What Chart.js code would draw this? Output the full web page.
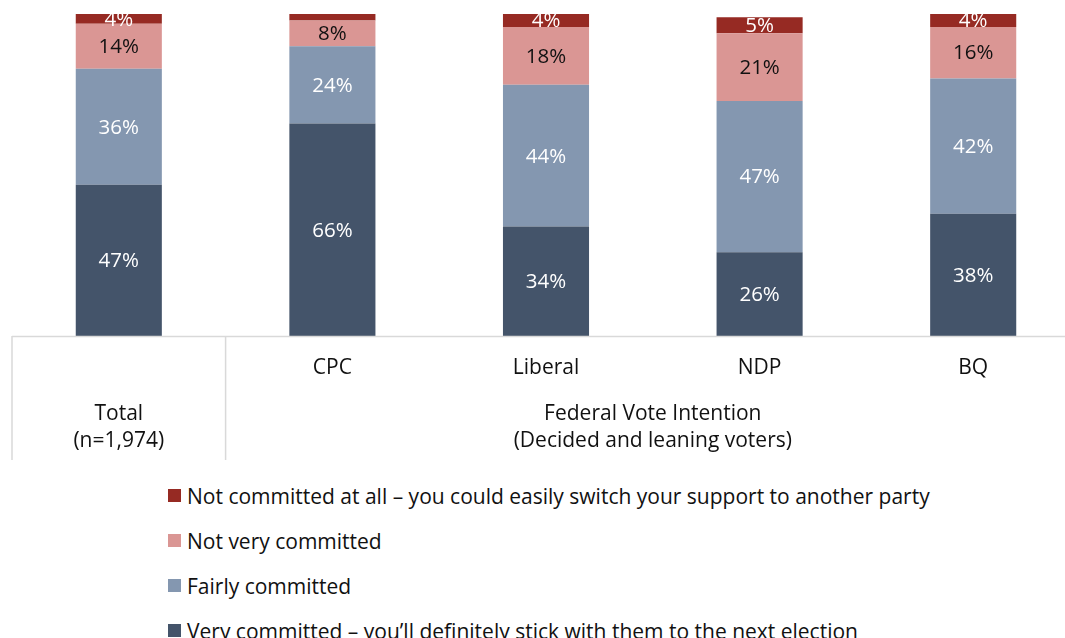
<!DOCTYPE html>
<html>
<head>
<meta charset="utf-8">
<script src="https://cdn.jsdelivr.net/npm/chart.js@4.4.1/dist/chart.umd.min.js"></script>
<style>
  html, body { margin: 0; padding: 0; background: #fff; overflow: hidden; }
  #wrap { position: absolute; left: 0; top: 0; width: 1080px; height: 470px; }
  #legend { position: absolute; left: 168px; top: 473px; font-family: "Open Sans", sans-serif; font-size: 21px; color: #111; }
  .item { height: 45px; display: flex; align-items: center; white-space: nowrap; }
  .box { width: 13px; height: 13px; margin-right: 6px; flex: none; }
</style>
</head>
<body>
<div id="wrap"><canvas id="chart"></canvas></div>
<div id="legend"></div>
<script>
const categories = ["Total", "CPC", "Liberal", "NDP", "BQ"];
const totalLines = ["Total", "(n=1,974)"];
const groupLines = ["Federal Vote Intention", "(Decided and leaning voters)"];

const veryCommitted = [47, 66, 34, 26, 38];
const fairlyCommitted = [36, 24, 44, 47, 42];
const notVeryCommitted = [14, 8, 18, 21, 16];
const notCommittedAtAll = [4, 2, 4, 5, 4];

const FONT = "'Open Sans', sans-serif";
const LINE = "#d9d9d9";

// value labels centred inside each segment
const segmentLabels = {
    id: "segmentLabels",
    afterDatasetsDraw(chart) {
        const ctx = chart.ctx;
        ctx.save();
        ctx.font = "20.5px " + FONT;
        ctx.textAlign = "center";
        ctx.textBaseline = "middle";
        chart.data.datasets.forEach((ds, i) => {
            const meta = chart.getDatasetMeta(i);
            meta.data.forEach((bar, j) => {
                const v = ds.data[j];
                if (v < 3) return;
                const top = Math.max(bar.y, chart.chartArea.top);
                ctx.fillStyle = ds.labelColor;
                ctx.fillText(v + "%", bar.x, (top + bar.base) / 2 + 1);
            });
        });
        ctx.restore();
    }
};

// table-like category axis with grouped label
const axisTable = {
    id: "axisTable",
    afterDraw(chart) {
        const ctx = chart.ctx;
        const area = chart.chartArea;
        const x = chart.scales.x;
        const bottom = 460;
        const split = (x.getPixelForValue(0) + x.getPixelForValue(1)) / 2;
        ctx.save();
        ctx.strokeStyle = LINE;
        ctx.lineWidth = 1.5;
        ctx.beginPath();
        ctx.moveTo(area.left, area.bottom + 0.5);
        ctx.lineTo(chart.width, area.bottom + 0.5);
        ctx.moveTo(area.left, area.bottom);
        ctx.lineTo(area.left, bottom);
        ctx.moveTo(split, area.bottom);
        ctx.lineTo(split, bottom);
        ctx.stroke();

        ctx.fillStyle = "#111";
        ctx.font = "21px " + FONT;
        ctx.textAlign = "center";
        ctx.textBaseline = "middle";
        const tx = x.getPixelForValue(0);
        ctx.fillText(totalLines[0], tx, 414);
        ctx.fillText(totalLines[1], tx, 441);
        const gx = (x.getPixelForValue(1) + x.getPixelForValue(categories.length - 1)) / 2;
        ctx.fillText(groupLines[0], gx, 414);
        ctx.fillText(groupLines[1], gx, 441);
        ctx.restore();
    }
};

const chart = new Chart(document.getElementById("chart"), {
    type: "bar",
    data: {
        labels: categories,
        datasets: [
            { label: "Very committed \u2013 you\u2019ll definitely stick with them to the next election", data: veryCommitted, backgroundColor: "#44546a", labelColor: "#fff" },
            { label: "Fairly committed", data: fairlyCommitted, backgroundColor: "#8497b0", labelColor: "#fff" },
            { label: "Not very committed", data: notVeryCommitted, backgroundColor: "#da9694", labelColor: "#111" },
            { label: "Not committed at all \u2013 you could easily switch your support to another party", data: notCommittedAtAll, backgroundColor: "#962a23", labelColor: "#fff" }
        ]
    },
    options: {
        responsive: true,
        maintainAspectRatio: false,
        animation: false,
        layout: { padding: { top: 14, left: 12, right: 0, bottom: 0 } },
        datasets: { bar: { barPercentage: 0.403, categoryPercentage: 1 } },
        plugins: { legend: { display: false }, tooltip: { enabled: false } },
        scales: {
            x: {
                stacked: true,
                grid: { display: false },
                border: { display: false },
                afterFit(scale) { scale.height = 134; },
                ticks: {
                    color: "#111",
                    padding: 11,
                    font: { family: FONT, size: 21 },
                    callback(v, i) { return i === 0 ? "" : categories[i]; }
                }
            },
            y: { stacked: true, display: false, min: 0, max: 100 }
        }
    },
    plugins: [segmentLabels, axisTable]
});

// legend: top segment first
const legend = document.getElementById("legend");
chart.data.datasets.slice().reverse().forEach(ds => {
    const row = document.createElement("div");
    row.className = "item";
    const box = document.createElement("span");
    box.className = "box";
    box.style.background = ds.backgroundColor;
    row.appendChild(box);
    row.appendChild(document.createTextNode(ds.label));
    legend.appendChild(row);
});
</script>
</body>
</html>
